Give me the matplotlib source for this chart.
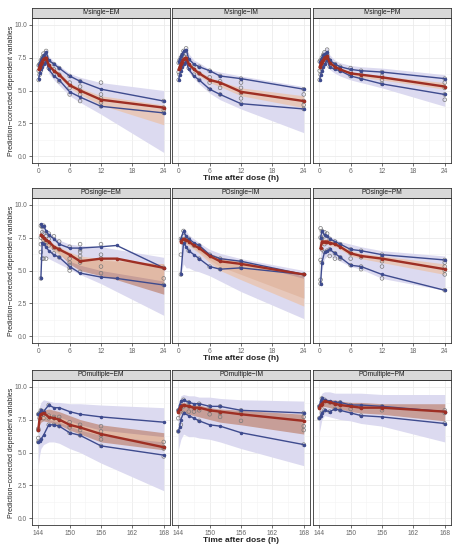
import matplotlib
matplotlib.use("Agg")
import matplotlib.pyplot as plt
import numpy as np

plt.rcParams['font.family'] = ['Liberation Sans', 'DejaVu Sans']

# ---- data: observed percentiles, simulated bands, observations ----
t_iv = [0.08, 0.25, 0.5, 0.75, 1, 1.5, 2, 3, 4, 6, 8, 12, 24]

ivem_hi = [6.9, 7.1, 7.3, 7.5, 7.7, 7.9, 7.3, 7.0, 6.7, 6.1, 5.7, 5.1, 4.2]
ivem_med = [6.6, 6.8, 7.0, 7.2, 7.4, 7.5, 6.9, 6.5, 6.2, 5.4, 5.0, 4.3, 3.7]
ivem_lo = [5.9, 6.3, 6.6, 6.8, 7.0, 7.2, 6.6, 6.1, 5.8, 4.9, 4.5, 3.8, 3.3]
ivem_pi_hi = [7.2, 7.4, 7.6, 7.8, 8.0, 8.1, 7.6, 7.2, 6.9, 6.3, 6.0, 5.6, 5.0]
ivem_pi_lo = [5.8, 6.0, 6.3, 6.6, 6.8, 7.0, 6.3, 5.8, 5.4, 4.6, 4.1, 3.2, 0.3]
ivem_ci_lo = [6.5, 6.7, 6.9, 7.1, 7.3, 7.4, 6.8, 6.4, 6.0, 5.2, 4.7, 3.9, 2.4]
ivem_ci_hi = [6.8, 7.0, 7.2, 7.4, 7.6, 7.7, 7.1, 6.7, 6.4, 5.6, 5.2, 4.6, 3.9]
ivem_obs_t = [0.08, 0.08, 0.08, 0.25, 0.25, 0.5, 0.5, 0.5, 0.75, 0.75, 1, 1, 1, 1.5, 1.5, 1.5,
              2, 2, 3, 3, 3, 4, 4, 4, 6, 6, 6, 6, 8, 8, 8, 8, 8, 12, 12, 12, 12, 12, 24, 24, 24, 24]
ivem_obs_v = [5.8, 6.5, 6.9, 6.2, 7.0, 6.5, 7.1, 7.3, 6.9, 7.5, 7.1, 7.6, 7.8, 7.2, 7.6, 8.0,
              6.7, 7.2, 6.2, 6.6, 7.0, 5.7, 6.2, 6.7, 4.7, 5.2, 5.6, 6.1, 4.2, 4.7, 5.0, 5.3, 5.7,
              3.8, 4.1, 4.4, 4.7, 5.6, 3.3, 3.5, 3.7, 4.2]

ivim_hi = [7.2, 7.4, 7.6, 7.8, 8.0, 8.1, 7.4, 7.0, 6.8, 6.5, 6.1, 5.9, 5.1]
ivim_med = [6.6, 6.8, 7.0, 7.2, 7.4, 7.5, 7.0, 6.6, 6.3, 5.8, 5.6, 4.9, 4.2]
ivim_lo = [5.8, 6.2, 6.5, 6.8, 7.0, 7.2, 6.6, 6.1, 5.8, 5.1, 4.7, 4.0, 3.6]
ivim_pi_hi = [7.4, 7.6, 7.8, 8.0, 8.2, 8.3, 7.8, 7.3, 7.1, 6.6, 6.4, 6.1, 5.3]
ivim_pi_lo = [5.7, 6.0, 6.3, 6.6, 6.8, 7.0, 6.4, 5.9, 5.5, 4.8, 4.3, 3.6, 1.8]
ivim_ci_lo = [6.5, 6.7, 6.9, 7.1, 7.3, 7.4, 6.9, 6.4, 6.1, 5.6, 5.3, 4.6, 3.7]
ivim_ci_hi = [6.8, 7.0, 7.2, 7.4, 7.6, 7.7, 7.2, 6.8, 6.5, 6.0, 5.7, 5.2, 4.6]
ivim_obs_t = [0.08, 0.08, 0.08, 0.25, 0.25, 0.5, 0.5, 0.75, 0.75, 1, 1, 1, 1.5, 1.5, 1.5, 2, 2,
              3, 3, 4, 4, 4, 6, 6, 6, 6, 8, 8, 8, 8, 12, 12, 12, 12, 12, 12, 24, 24, 24, 24, 24]
ivim_obs_v = [5.8, 6.4, 7.1, 6.2, 7.3, 6.6, 7.5, 6.9, 7.7, 7.0, 7.6, 8.0, 7.2, 7.8, 8.2, 6.7, 7.3,
              6.2, 6.9, 5.8, 6.3, 6.8, 5.1, 5.6, 6.0, 6.5, 4.7, 5.2, 5.7, 6.1, 4.0, 4.4, 4.8, 5.2,
              5.6, 5.9, 3.6, 3.9, 4.2, 4.7, 5.1]

ivpm_hi = [7.2, 7.3, 7.5, 7.7, 7.8, 7.9, 7.3, 7.0, 6.8, 6.6, 6.5, 6.4, 5.9]
ivpm_med = [6.8, 7.0, 7.2, 7.3, 7.5, 7.6, 7.1, 6.8, 6.6, 6.3, 6.2, 6.0, 5.3]
ivpm_lo = [5.8, 6.2, 6.5, 6.8, 7.0, 7.3, 6.8, 6.6, 6.5, 6.1, 5.9, 5.5, 4.7]
ivpm_pi_hi = [7.4, 7.6, 7.8, 8.0, 8.1, 8.3, 7.7, 7.3, 7.1, 6.9, 6.8, 6.7, 6.2]
ivpm_pi_lo = [5.7, 6.0, 6.3, 6.6, 6.8, 7.0, 6.6, 6.3, 6.1, 5.8, 5.6, 5.2, 3.8]
ivpm_ci_lo = [6.7, 6.9, 7.1, 7.2, 7.4, 7.5, 7.0, 6.7, 6.5, 6.2, 6.0, 5.8, 5.1]
ivpm_ci_hi = [6.9, 7.1, 7.3, 7.4, 7.6, 7.7, 7.2, 6.9, 6.7, 6.4, 6.3, 6.1, 5.6]
ivpm_obs_t = [0.08, 0.08, 0.08, 0.25, 0.25, 0.5, 0.5, 0.75, 0.75, 1, 1, 1, 1.5, 1.5, 1.5, 2, 2,
              3, 3, 4, 4, 6, 6, 6, 8, 8, 8, 12, 12, 12, 12, 24, 24, 24, 24, 24]
ivpm_obs_v = [5.8, 6.5, 7.2, 6.2, 7.3, 6.6, 7.5, 6.9, 7.7, 7.1, 7.5, 7.9, 7.3, 7.7, 8.1, 6.8, 7.3,
              6.7, 7.0, 6.5, 6.8, 6.1, 6.4, 6.7, 5.9, 6.2, 6.5, 5.5, 5.8, 6.1, 6.4, 4.3, 4.7, 5.2,
              5.6, 5.9]

t_poem = [0.5, 0.75, 1, 1.5, 2, 3, 4, 6, 8, 12, 15, 24]
poem_hi = [8.5, 8.4, 8.4, 8.0, 7.7, 7.4, 7.0, 6.7, 6.7, 6.8, 6.9, 5.2]
poem_med = [7.7, 7.6, 7.5, 7.3, 7.2, 6.8, 6.6, 6.2, 5.7, 5.9, 5.9, 5.2]
poem_lo = [4.4, 7.1, 7.0, 6.8, 6.5, 6.2, 6.0, 5.3, 4.8, 4.5, 4.4, 3.9]
poem_pi_hi = [8.6, 8.5, 8.4, 8.1, 7.9, 7.6, 7.3, 7.0, 6.9, 6.8, 6.6, 6.0]
poem_pi_lo = [5.4, 5.8, 6.0, 6.0, 5.9, 5.7, 5.5, 5.1, 4.7, 4.0, 3.4, 1.6]
poem_ci_lo = [7.3, 7.2, 7.1, 6.9, 6.8, 6.5, 6.2, 5.7, 5.4, 5.0, 4.8, 4.2]
poem_ci_hi = [7.8, 7.7, 7.6, 7.4, 7.3, 7.0, 6.8, 6.4, 6.1, 5.9, 5.8, 5.5]
poem_br_lo = [7.4, 7.3, 7.2, 7.0, 6.9, 6.6, 6.3, 5.5, 5.0, 4.6, 4.3, 3.2]
poem_br_hi = [7.7, 7.6, 7.5, 7.3, 7.2, 6.9, 6.7, 6.3, 5.9, 5.8, 5.7, 5.5]
poem_obs_t = [0.5, 0.5, 0.5, 0.5, 0.5, 0.75, 0.75, 0.75, 1, 1, 1, 1, 1.5, 1.5, 1.5, 2, 2, 2,
              3, 3, 3, 4, 4, 4, 6, 6, 6, 6, 6, 6, 8, 8, 8, 8, 8, 8, 8, 12, 12, 12, 12, 12, 24, 24, 24]
poem_obs_v = [4.4, 6.4, 7.0, 7.5, 8.4, 5.9, 7.9, 8.3, 5.9, 7.3, 7.8, 8.4, 5.9, 7.2, 7.6, 6.9, 7.4,
              7.8, 6.3, 6.7, 7.6, 6.0, 6.6, 7.2, 5.0, 5.2, 5.4, 5.6, 5.9, 6.8, 4.9, 5.6, 5.8, 6.1,
              6.4, 6.6, 7.0, 4.8, 5.3, 5.9, 6.2, 7.0, 3.9, 4.4, 5.2]

t_poim = [0.5, 1, 1.5, 2, 3, 4, 6, 8, 12, 24]
poim_hi = [7.4, 8.0, 7.6, 7.4, 7.1, 6.9, 6.2, 5.9, 5.7, 4.7]
poim_med = [7.2, 7.4, 7.3, 7.2, 6.9, 6.7, 6.1, 5.7, 5.5, 4.7]
poim_lo = [4.7, 7.1, 6.8, 6.5, 6.2, 5.9, 5.3, 5.1, 5.2, 4.7]
poim_pi_hi = [7.6, 8.2, 8.0, 7.7, 7.4, 7.1, 6.6, 6.3, 5.9, 5.0]
poim_pi_lo = [4.7, 5.5, 5.2, 5.2, 5.0, 4.9, 4.6, 4.2, 3.4, 1.35]
poim_ci_lo = [7.0, 7.2, 7.0, 6.9, 6.6, 6.3, 5.6, 5.0, 4.3, 2.3]
poim_ci_hi = [7.4, 7.6, 7.5, 7.4, 7.1, 6.9, 6.3, 6.0, 5.7, 4.4]
poim_br_lo = [7.1, 7.3, 7.1, 7.0, 6.7, 6.4, 5.8, 5.3, 4.7, 2.9]
poim_br_hi = [7.4, 7.6, 7.5, 7.3, 7.0, 6.8, 6.3, 6.0, 5.7, 4.6]
poim_obs_t = [0.5, 0.5, 0.5, 1, 1, 1, 1.5, 2, 2, 3, 4, 4, 6, 6, 8, 8, 12, 12, 24]
poim_obs_v = [4.7, 6.2, 7.4, 7.1, 7.6, 8.0, 7.3, 6.5, 7.4, 6.9, 5.9, 6.9, 5.3, 6.2, 5.1, 5.9,
              5.2, 5.7, 4.7]

t_popm = [0.25, 0.5, 1, 1.5, 2, 3, 4, 6, 8, 12, 24]
popm_hi = [7.5, 8.0, 7.7, 7.6, 7.4, 7.2, 7.0, 6.6, 6.5, 6.2, 5.8]
popm_med = [6.7, 7.2, 7.2, 7.2, 7.1, 7.0, 6.8, 6.3, 6.1, 5.9, 5.1]
popm_lo = [4.0, 5.6, 6.4, 6.5, 6.6, 6.3, 6.0, 5.4, 5.3, 4.7, 3.5]
popm_pi_hi = [7.8, 8.2, 8.0, 7.8, 7.6, 7.4, 7.2, 7.0, 6.8, 6.5, 6.1]
popm_pi_lo = [4.0, 5.0, 5.9, 6.1, 6.1, 5.9, 5.7, 5.3, 5.1, 4.4, 3.5]
popm_ci_lo = [6.5, 6.9, 7.0, 7.0, 6.9, 6.8, 6.6, 6.1, 5.9, 5.6, 4.7]
popm_ci_hi = [6.9, 7.3, 7.4, 7.4, 7.3, 7.2, 7.0, 6.5, 6.3, 6.1, 5.5]
popm_obs_t = [0.25, 0.25, 0.25, 0.25, 0.25, 0.5, 0.5, 0.5, 0.5, 1, 1, 1, 1, 1.5, 1.5, 2, 2, 2,
              3, 3, 3, 4, 4, 4, 6, 6, 6, 6, 8, 8, 8, 8, 12, 12, 12, 12, 12, 24, 24, 24, 24, 24, 24]
popm_obs_v = [4.0, 4.3, 5.8, 7.5, 8.2, 5.6, 6.6, 7.4, 8.0, 6.4, 7.0, 7.6, 7.9, 6.5, 7.8, 6.1,
              6.6, 7.4, 5.9, 6.3, 7.2, 5.9, 6.0, 7.0, 5.4, 5.9, 6.3, 6.6, 5.1, 5.3, 6.0, 6.5,
              4.4, 5.3, 5.7, 6.0, 6.2, 3.5, 4.7, 5.0, 5.3, 5.6, 5.8]

t_md = [144, 144.25, 144.5, 145, 146, 147, 148, 150, 152, 156, 168]

pmem_hi = [7.9, 8.0, 8.2, 8.1, 8.6, 8.4, 8.4, 8.1, 7.9, 7.7, 7.3]
pmem_med = [6.7, 7.6, 7.9, 8.0, 7.7, 7.6, 7.5, 7.1, 6.9, 6.4, 5.4]
pmem_lo = [5.8, 5.9, 6.0, 6.3, 7.1, 7.1, 7.0, 6.5, 6.3, 5.5, 4.8]
pmem_pi_hi = [8.0, 8.5, 8.8, 9.0, 8.9, 8.8, 8.8, 8.7, 8.7, 8.6, 8.4]
pmem_pi_lo = [4.0, 4.8, 5.3, 5.6, 5.8, 5.8, 5.7, 5.3, 5.0, 4.2, 2.1]
pmem_br_lo = [6.6, 7.1, 7.3, 7.4, 7.3, 7.2, 7.1, 6.7, 6.4, 5.8, 5.2]
pmem_br_hi = [7.1, 7.7, 8.0, 8.2, 8.3, 8.2, 8.1, 7.8, 7.5, 7.1, 6.5]
pmem_ci_lo = [6.8, 7.3, 7.5, 7.6, 7.5, 7.4, 7.3, 7.0, 6.7, 6.3, 5.8]
pmem_ci_hi = [7.0, 7.5, 7.8, 7.9, 7.9, 7.8, 7.7, 7.4, 7.1, 6.7, 6.2]
pmem_obs_t = [144, 144, 144, 144, 144, 144.25, 144.25, 144.5, 144.5, 145, 145, 145, 146, 146,
              146, 146, 147, 147, 147, 148, 148, 148, 150, 150, 150, 150, 152, 152, 152, 152,
              156, 156, 156, 156, 156, 168, 168, 168, 168]
pmem_obs_v = [5.8, 6.1, 6.7, 6.8, 7.9, 7.6, 8.0, 7.8, 8.2, 7.6, 7.9, 8.1, 7.1, 7.6, 7.8, 8.6,
              7.1, 7.6, 7.7, 7.0, 7.5, 7.7, 6.5, 6.9, 7.1, 7.3, 6.3, 6.7, 6.9, 7.1, 5.5, 6.0,
              6.3, 6.6, 7.0, 4.7, 5.3, 5.4, 5.8]

pmim_hi = [8.2, 8.6, 8.9, 9.0, 8.8, 8.7, 8.7, 8.5, 8.5, 8.2, 8.0]
pmim_med = [8.1, 8.3, 8.5, 8.6, 8.5, 8.4, 8.4, 8.2, 8.1, 7.9, 7.4]
pmim_lo = [6.6, 6.9, 7.5, 8.0, 7.8, 7.6, 7.4, 7.1, 7.0, 6.5, 5.6]
pmim_pi_hi = [8.4, 9.0, 9.3, 9.4, 9.3, 9.3, 9.2, 9.2, 9.1, 9.0, 8.9]
pmim_pi_lo = [5.2, 5.6, 6.0, 6.4, 6.2, 6.2, 6.1, 6.0, 5.8, 5.3, 4.0]
pmim_br_lo = [7.6, 7.8, 8.0, 8.0, 7.9, 7.8, 7.7, 7.5, 7.3, 7.1, 6.4]
pmim_br_hi = [8.3, 8.6, 8.8, 8.8, 8.7, 8.6, 8.6, 8.4, 8.3, 8.2, 7.9]
pmim_obs_t = [144, 144, 144, 144.5, 144.5, 145, 145, 145, 146, 146, 146, 147, 147, 148, 148,
              148, 150, 150, 150, 152, 152, 152, 156, 156, 156, 168, 168, 168, 168, 168]
pmim_obs_v = [6.6, 7.6, 8.2, 7.1, 8.4, 8.0, 8.5, 9.0, 8.1, 8.5, 8.8, 8.1, 8.4, 7.4, 8.2, 8.7,
              7.9, 8.2, 8.5, 7.7, 8.0, 8.5, 7.4, 8.1, 8.2, 5.6, 6.7, 7.0, 7.7, 8.0]

pmpm_hi = [8.5, 8.9, 9.1, 9.0, 8.9, 8.8, 8.8, 8.6, 8.6, 8.5, 8.1]
pmpm_med = [8.4, 8.6, 8.7, 8.9, 8.8, 8.7, 8.6, 8.5, 8.4, 8.4, 8.1]
pmpm_lo = [7.6, 7.8, 8.0, 8.2, 8.1, 8.3, 8.2, 8.0, 7.8, 7.7, 7.2]
pmpm_pi_hi = [8.8, 9.3, 9.5, 9.6, 9.6, 9.5, 9.5, 9.5, 9.5, 9.4, 9.4]
pmpm_pi_lo = [6.5, 7.0, 7.5, 7.8, 7.7, 7.6, 7.5, 7.4, 7.2, 7.0, 5.8]
pmpm_br_lo = [8.1, 8.3, 8.4, 8.5, 8.4, 8.3, 8.3, 8.1, 8.0, 7.9, 7.4]
pmpm_br_hi = [8.7, 8.9, 9.0, 9.1, 9.0, 9.0, 8.9, 8.8, 8.8, 8.7, 8.7]
pmpm_obs_t = [144, 144, 144.5, 144.5, 144.5, 145, 145, 145, 146, 146, 147, 147, 148, 148, 148,
              150, 150, 152, 152, 156, 156, 168, 168, 168]
pmpm_obs_v = [7.6, 8.5, 8.0, 8.7, 9.1, 8.2, 8.9, 9.0, 8.1, 8.8, 8.3, 8.7, 8.2, 8.6, 8.8, 8.3,
              8.6, 7.8, 8.4, 8.2, 8.5, 7.2, 8.0, 8.2]

titles = ["IVsingle\u2212EM", "IVsingle\u2212IM", "IVsingle\u2212PM",
          "POsingle\u2212EM", "POsingle\u2212IM", "POsingle\u2212PM",
          "POmultiple\u2212EM", "POmultiple\u2212IM", "POmultiple\u2212PM"]
single_ticks = [0, 6, 12, 18, 24]
multiple_ticks = [144, 150, 156, 162, 168]
y_ticks = [0.0, 2.5, 5.0, 7.5, 10.0]

# ---- styling ----
C_LAV = "#DCDAF0"
C_PEACH = "#EBC3AA"
C_BROWN = "#C79E98"
C_BLUE = "#3E4B8E"
C_RED = "#9E2F24"
C_OBS = "#7A7A7A"

W, H = 462, 550
fig = plt.figure(figsize=(W / 100, H / 100), dpi=100)


def px_axes(left, top, w, h):
    return fig.add_axes([left / W, 1 - (top + h) / H, w / W, h / H])


def panel(ax, t, lo, med, hi, pi_lo, pi_hi, ci_lo, ci_hi, br_lo, br_hi,
          obs_t, obs_v, xticks, show_y):
    ax.fill_between(t, pi_lo, pi_hi, color=C_LAV, lw=0, zorder=1)
    if br_lo is not None:
        ax.fill_between(t, br_lo, br_hi, color=C_BROWN, lw=0, zorder=2)
    if ci_lo is not None:
        ax.fill_between(t, ci_lo, ci_hi, color=C_PEACH, lw=0, alpha=0.75, zorder=3)
    ax.scatter(obs_t, obs_v, s=7, facecolors="none", edgecolors=C_OBS, linewidths=0.5, zorder=4)
    for y in (lo, hi):
        ax.plot(t, y, color=C_BLUE, lw=1.0, marker="o", ms=1.5, zorder=5)
    ax.plot(t, med, color=C_RED, lw=1.7, marker="o", ms=1.6, zorder=6)

    ax.set_ylim(-0.5, 10.5)
    span = xticks[-1] - xticks[0]
    ax.set_xlim(xticks[0] - 0.05 * span, xticks[-1] + 0.05 * span)
    ax.set_xticks(xticks)
    ax.set_xticks([(a + b) / 2 for a, b in zip(xticks[:-1], xticks[1:])], minor=True)
    ax.set_yticks(y_ticks)
    ax.set_yticks([1.25, 3.75, 6.25, 8.75], minor=True)
    ax.grid(which="major", color="#EBEBEB", lw=0.6, zorder=0)
    ax.grid(which="minor", color="#F4F4F4", lw=0.4, zorder=0)
    ax.set_axisbelow(True)
    ax.tick_params(which="major", length=2, width=0.5, color="#333333", pad=1.5,
                   labelsize=4.8, labelcolor="#666666")
    ax.tick_params(which="minor", length=0)
    if show_y:
        ax.set_yticklabels(["0.0", "2.5", "5.0", "7.5", "10.0"])
    else:
        ax.set_yticklabels([])
        ax.tick_params(axis="y", which="major", length=0)
    for s in ax.spines.values():
        s.set_color("#333333")
        s.set_linewidth(0.6)


panels = [
    (t_iv, ivem_lo, ivem_med, ivem_hi, ivem_pi_lo, ivem_pi_hi, ivem_ci_lo, ivem_ci_hi, None, None, ivem_obs_t, ivem_obs_v),
    (t_iv, ivim_lo, ivim_med, ivim_hi, ivim_pi_lo, ivim_pi_hi, ivim_ci_lo, ivim_ci_hi, None, None, ivim_obs_t, ivim_obs_v),
    (t_iv, ivpm_lo, ivpm_med, ivpm_hi, ivpm_pi_lo, ivpm_pi_hi, ivpm_ci_lo, ivpm_ci_hi, None, None, ivpm_obs_t, ivpm_obs_v),
    (t_poem, poem_lo, poem_med, poem_hi, poem_pi_lo, poem_pi_hi, poem_ci_lo, poem_ci_hi, poem_br_lo, poem_br_hi, poem_obs_t, poem_obs_v),
    (t_poim, poim_lo, poim_med, poim_hi, poim_pi_lo, poim_pi_hi, poim_ci_lo, poim_ci_hi, poim_br_lo, poim_br_hi, poim_obs_t, poim_obs_v),
    (t_popm, popm_lo, popm_med, popm_hi, popm_pi_lo, popm_pi_hi, popm_ci_lo, popm_ci_hi, None, None, popm_obs_t, popm_obs_v),
    (t_md, pmem_lo, pmem_med, pmem_hi, pmem_pi_lo, pmem_pi_hi, pmem_ci_lo, pmem_ci_hi, pmem_br_lo, pmem_br_hi, pmem_obs_t, pmem_obs_v),
    (t_md, pmim_lo, pmim_med, pmim_hi, pmim_pi_lo, pmim_pi_hi, None, None, pmim_br_lo, pmim_br_hi, pmim_obs_t, pmim_obs_v),
    (t_md, pmpm_lo, pmpm_med, pmpm_hi, pmpm_pi_lo, pmpm_pi_hi, None, None, pmpm_br_lo, pmpm_br_hi, pmpm_obs_t, pmpm_obs_v),
]

col_left = [32, 172, 313]
row_top = [18, 198, 380]
pw, ph = 138, 145
strip_h = 10

for i, p in enumerate(panels):
    r, c = divmod(i, 3)
    ax = px_axes(col_left[c], row_top[r], pw, ph)
    xt = multiple_ticks if r == 2 else single_ticks
    panel(ax, *p, xticks=xt, show_y=(c == 0))

    sax = px_axes(col_left[c], row_top[r] - strip_h, pw, strip_h)
    sax.set_facecolor("#D9D9D9")
    sax.set_xticks([])
    sax.set_yticks([])
    for s in sax.spines.values():
        s.set_color("#333333")
        s.set_linewidth(0.6)
    sax.text(0.5, 0.5, titles[i], ha="center", va="center", fontsize=4.8,
             color="#1A1A1A", transform=sax.transAxes)

for r in range(3):
    yc = 1 - (row_top[r] + ph / 2) / H
    fig.text(12 / W, yc, "Prediction\u2212corrected dependent variables", rotation=90,
             ha="center", va="center", fontsize=5.0, color="#222222")
    fig.text(241 / W, 1 - (row_top[r] + ph + 15) / H, "Time after dose (h)",
             ha="center", va="center", fontsize=6.0, fontweight="bold", color="#222222")

fig.savefig("out.png", dpi=100)
